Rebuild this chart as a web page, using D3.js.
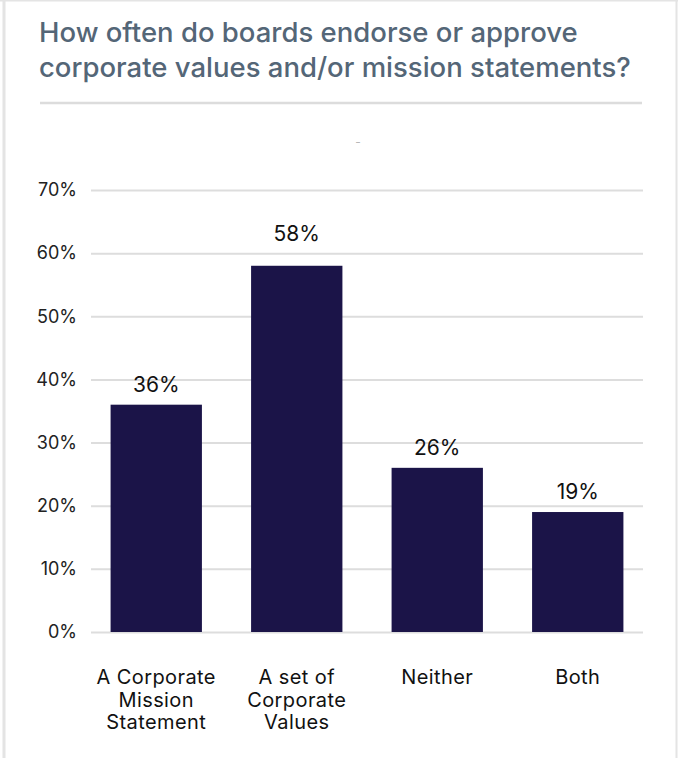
<!DOCTYPE html>
<html>
<head>
<meta charset="utf-8">
<script src="https://cdn.jsdelivr.net/npm/d3@7"></script>
<style>
  html, body { margin: 0; padding: 0; background: #ffffff; }
  svg { display: block; }
  text { font-family: Inter, Lato, sans-serif; }
</style>
</head>
<body>
<svg id="chart" width="678" height="758"></svg>
<script>
// Survey responses: share of boards endorsing each statement type
const categories = [
  ["A Corporate", "Mission", "Statement"],
  ["A set of", "Corporate", "Values"],
  ["Neither"],
  ["Both"]
];
const values = [36, 58, 26, 19];
const yTicks = [0, 10, 20, 30, 40, 50, 60, 70];
const titleLines = [
  "How often do boards endorse or approve",
  "corporate values and/or mission statements?"
];

const svg = d3.select("#chart");
const W = 678, H = 758;

// card frame
svg.append("rect").attr("x", 0).attr("y", 0).attr("width", W).attr("height", H).attr("fill", "#ffffff");
svg.append("line").attr("x1", 4).attr("x2", 4).attr("y1", 0).attr("y2", H)
  .attr("stroke", "#e4e4e4").attr("stroke-width", 3);
svg.append("line").attr("x1", 676.5).attr("x2", 676.5).attr("y1", 0).attr("y2", H)
  .attr("stroke", "#e4e4e4").attr("stroke-width", 2);
svg.append("line").attr("x1", 0).attr("x2", W).attr("y1", 0.5).attr("y2", 0.5)
  .attr("stroke", "#e4e4e4").attr("stroke-width", 2);

// title
svg.append("g").selectAll("text").data(titleLines).join("text")
  .attr("x", 39).attr("y", (d, i) => 42 + i * 35)
  .attr("fill", "#546677").attr("font-size", 27.5).attr("font-weight", 500)
  .text(d => d);

svg.append("line").attr("x1", 40).attr("x2", 642).attr("y1", 103).attr("y2", 103)
  .attr("stroke", "#dcdcdc").attr("stroke-width", 2.5);

// empty subtitle placeholder
svg.append("text").attr("x", 358).attr("y", 146).attr("text-anchor", "middle")
  .attr("fill", "#b8b8b8").attr("font-size", 12).text("-");

// scales
const x = d3.scaleBand().domain(d3.range(values.length)).range([86, 648])
  .paddingInner(0.35).paddingOuter(0.175);
const y = d3.scaleLinear().domain([0, 70]).range([632, 190]);

// gridlines and y labels
const yAxis = d3.axisLeft(y).tickValues(yTicks).tickFormat(d => d + "%")
  .tickSize(-(643 - 91)).tickPadding(14);
const gy = svg.append("g").attr("transform", "translate(91,0)").call(yAxis);
gy.select(".domain").remove();
gy.selectAll(".tick line").attr("stroke", "#dddddd").attr("stroke-width", 2);
gy.selectAll(".tick text").attr("fill", "#222222").attr("font-size", 18)
  .attr("font-family", "Inter, Lato, sans-serif");

// bars
svg.append("g").selectAll("rect").data(values).join("rect")
  .attr("x", (d, i) => x(i)).attr("width", x.bandwidth())
  .attr("y", d => y(d)).attr("height", d => y(0) - y(d))
  .attr("fill", "#1b1448");

// value labels; the tallest bar's label sits clear of the top gridline
const vMax = d3.max(values);
svg.append("g").selectAll("text").data(values).join("text")
  .attr("x", (d, i) => x(i) + x.bandwidth() / 2)
  .attr("y", d => y(d) - (d === vMax ? 25 : 13))
  .attr("text-anchor", "middle").attr("fill", "#111111").attr("font-size", 21)
  .text(d => d + "%");

// category labels
const cat = svg.append("g").selectAll("text").data(categories).join("text")
  .attr("x", (d, i) => x(i) + x.bandwidth() / 2)
  .attr("y", 684)
  .attr("text-anchor", "middle").attr("fill", "#111111")
  .attr("font-size", 20).attr("letter-spacing", 0.4);
cat.selectAll("tspan").data(d => d).join("tspan")
  .attr("x", function () { return d3.select(this.parentNode).attr("x"); })
  .attr("dy", (d, i) => i === 0 ? 0 : 22.5)
  .text(d => d);
</script>
</body>
</html>
